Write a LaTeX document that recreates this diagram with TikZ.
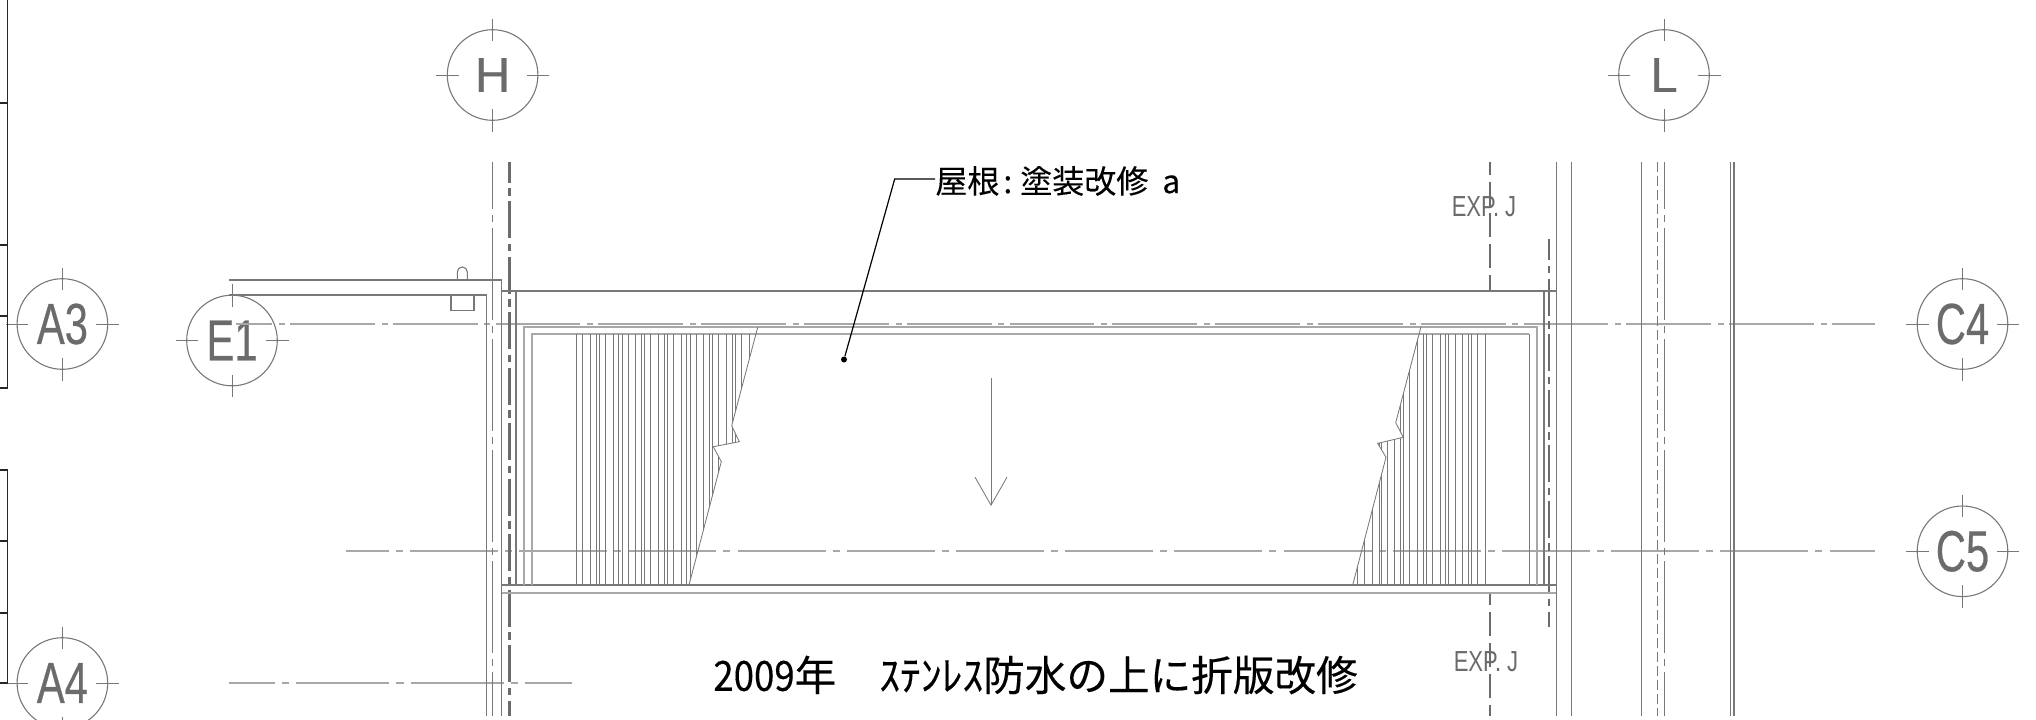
\documentclass[tikz,border=0pt]{standalone}
\usepackage{fontspec}
\setmainfont{Liberation Sans}
\newfontfamily\gridfont[FakeStretch=0.72,FakeBold=0.4]{Liberation Sans}
\newfontfamily\letterfont[FakeBold=0.5]{Liberation Sans}
\newfontfamily\tagfont[FakeStretch=0.76]{Liberation Sans}
\newfontfamily\notefont[FakeBold=0.2]{Noto Sans CJK JP}
\newfontfamily\yearfont[FakeBold=0.3]{Noto Sans CJK JP}
\newfontfamily\yearnarrow[FakeStretch=0.88,FakeBold=0.3]{Noto Sans CJK JP}
\usetikzlibrary{arrows.meta}
\definecolor{cadline}{gray}{0.47}
\definecolor{cadlight}{gray}{0.66}
\definecolor{cadtext}{gray}{0.42}
\tikzset{%
  >={Straight Barb[width=16pt,length=14pt]},
  % Specifications for style of nodes:
        gridmark/.style = {circle, draw=cadline, line width=0.55pt, inner sep=0pt,
                           minimum size=45.3pt, text=cadtext},
      gridnumber/.style = {gridmark, font=\gridfont\fontsize{29}{30}\selectfont},
      gridletter/.style = {gridmark, font=\letterfont\fontsize{24.5}{26}\selectfont},
         jointag/.style = {text=cadtext, inner sep=0pt,
                           font=\tagfont\fontsize{14.5}{16}\selectfont},
        roofnote/.style = {inner sep=0pt, font=\notefont\fontsize{16}{18}\selectfont},
       yearsnote/.style = {inner sep=0pt, font=\yearfont\fontsize{20.8}{24}\selectfont},
         notedot/.style = {circle, fill=black, inner sep=0pt, minimum size=3pt},
  % Specifications for style of lines:
            wall/.style = {draw=cadline, line width=0.55pt},
        wallpale/.style = {draw=cadlight, line width=1pt},
           hatch/.style = {draw=cadline, line width=0.42pt},
           frame/.style = {draw=black!85, line width=0.6pt},
        tickmark/.style = {draw=cadline, line width=0.4pt},
       centerrow/.style = {draw=cadlight, line width=0.85pt},
      centercol/.style = {draw=cadline, line width=0.45pt,
                          dash pattern=on 46pt off 3pt on 3.5pt off 3pt, dash phase=22.5pt},
      jointline/.style = {draw=black!58, line width=1.1pt,
                          dash pattern=on 18.5pt off 2.75pt on 3.75pt off 2.75pt, dash phase=8.25pt},
        expjoint/.style = {draw=black!58, line width=0.8pt,
                          dash pattern=on 12pt off 3.5pt, dash phase=5.5pt},
}
\begin{document}
\begin{tikzpicture}[x=0.5pt,y=-0.5pt]
  \clip (0,0) rectangle (2036,719);

  % Specification of grid marks
  \node (gridH)  [gridletter] at (492.6,75)    {H};
  \node (gridL)  [gridletter] at (1664,75)     {L};
  \node (gridA3) [gridnumber] at (62.4,324)    {A3};
  \node (gridE1) [gridnumber] at (232,340.5)   {E1};
  \node (gridA4) [gridnumber] at (62.4,683)    {A4};
  \node (gridC4) [gridnumber] at (1962.5,324)  {C4};
  \node (gridC5) [gridnumber] at (1962.5,551.3) {C5};

  \foreach \g in {gridH,gridL,gridA3,gridE1,gridA4,gridC4,gridC5}{
    \draw[tickmark] ([yshift=28.25pt]\g.center) -- ([yshift=17pt]\g.center);
    \draw[tickmark] ([yshift=-28.25pt]\g.center) -- ([yshift=-17pt]\g.center);
    \draw[tickmark] ([xshift=-28.25pt]\g.center) -- ([xshift=-17pt]\g.center);
    \draw[tickmark] ([xshift=28.25pt]\g.center) -- ([xshift=17pt]\g.center);
  }

  % Table edges at the left
  \draw[frame] (7.4,0) -- (7.4,388) -- (0,388);
  \draw[frame] (0,103) -- (7.4,103) (0,245) -- (7.4,245) (0,316) -- (7.4,316);
  \draw[frame] (0,470) -- (7.4,470) -- (7.4,683) -- (0,683);
  \draw[frame] (0,541) -- (7.4,541) (0,613) -- (7.4,613);

  % Center lines
  \draw[centerrow, dash pattern=on 42.4pt off 3.4pt on 3pt off 2.6pt, dash phase=24.4pt]
       (236,324) -- (1875,324);
  \draw[centerrow, dash pattern=on 44pt off 3.5pt on 3.5pt off 3.6pt, dash phase=22.4pt]
       (345.6,551.3) -- (1875,551.3);
  \draw[centerrow, dash pattern=on 46.5pt off 3.5pt on 3.75pt off 3.5pt, dash phase=23.75pt]
       (229,683) -- (572.4,683);
  \draw[centercol] (492.2,162) -- (492.2,716);
  \draw[centercol] (1664,162) -- (1664,716);
  \draw[jointline] (509.4,162) -- (509.4,716);
  \draw[jointline, dash phase=8pt] (1549,239) -- (1549,627);
  \draw[expjoint] (1490,162) -- (1490,291);
  \draw[expjoint] (1490,592) -- (1490,716);

  % Walls and slab edges
  \draw[wall] (229,280) -- (501.7,280) -- (501.7,716);
  \draw[wall] (229,295) -- (486.3,295) -- (486.3,716);
  \draw[wall] (451,295) -- (451,310.7) -- (474,310.7) -- (474,295);
  \draw[wall] (457.3,280) -- (457.3,272) arc[start angle=180, end angle=360, radius=5] -- (467.3,280);
  \draw[wall, line width=0.8pt] (501.7,290.7) -- (1556.5,290.7);
  \draw[wall] (516,290.7) -- (516,585);
  \draw[wall] (1544,290.7) -- (1544,585);
  \draw[wall, line width=0.8pt] (501.7,585) -- (1556.5,585);
  \draw[wallpale] (501.7,592.7) -- (1556.5,592.7);
  \draw[wall] (1556.5,162) -- (1556.5,716);
  \draw[wall] (1571.8,162) -- (1571.8,716);
  \draw[wall, line width=0.7pt] (1641.4,162) -- (1641.4,716);
  \draw[draw=cadline, line width=0.45pt, dash pattern=on 5pt off 2pt] (1657,162) -- (1657,716);
  \draw[wall] (1730.6,162) -- (1730.6,716);
  \draw[wall] (1734,162) -- (1734,716);

  % Roof edge lines
  \draw[wallpale] (524,585) -- (524,327.3) -- (1536.7,327.3) -- (1536.7,585);
  \draw[wallpale] (531.7,585) -- (531.7,334.2) -- (1529.3,334.2);
  \draw[wall] (1529.3,334.2) -- (1529.3,585);

  % Folded plate lines, cut at the break
  \begin{scope}
    \clip (560,327) -- (757.7,327.3) -- (731.7,425.7) -- (739.3,441.7) -- (713.3,446.7)
          -- (721.3,461.7) -- (689,585) -- (560,585) -- cycle;
    \draw[hatch] (576.7,334) -- +(0,251) (582.7,334) -- +(0,251) (590.7,334) -- +(0,251) (596.3,334) -- +(0,251);
    \draw[hatch] (599.3,334) -- +(0,251) (605.3,334) -- +(0,251) (613,334) -- +(0,251) (618.7,334) -- +(0,251);
    \draw[hatch] (622.3,334) -- +(0,251) (628,334) -- +(0,251) (635.7,334) -- +(0,251) (641.7,334) -- +(0,251);
    \draw[hatch] (644.7,334) -- +(0,251) (650.3,334) -- +(0,251) (658.3,334) -- +(0,251) (664,334) -- +(0,251);
    \draw[hatch] (667.3,334) -- +(0,251) (673,334) -- +(0,251) (681,334) -- +(0,251) (686.7,334) -- +(0,251);
    \draw[hatch] (690,334) -- +(0,251) (696,334) -- +(0,251) (703.7,334) -- +(0,251) (709.3,334) -- +(0,251);
    \draw[hatch] (712.3,334) -- +(0,251) (718.3,334) -- +(0,251) (726.3,334) -- +(0,251) (732.3,334) -- +(0,251);
    \draw[hatch] (735.3,334) -- +(0,251) (741.7,334) -- +(0,251) (749.3,334) -- +(0,251);
  \end{scope}
  \begin{scope}
    \clip (1500,327) -- (1421,326.7) -- (1395.7,422.7) -- (1403.3,437.3) -- (1377.7,443.3)
          -- (1386,457.3) -- (1352.7,585) -- (1500,585) -- cycle;
    \draw[hatch] (1357.7,334) -- +(0,251) (1364.3,334) -- +(0,251) (1372,334) -- +(0,251) (1379.3,334) -- +(0,251);
    \draw[hatch] (1381,334) -- +(0,251) (1387,334) -- +(0,251) (1394.7,334) -- +(0,251) (1400.7,334) -- +(0,251);
    \draw[hatch] (1403.3,334) -- +(0,251) (1409.7,334) -- +(0,251) (1417.7,334) -- +(0,251) (1423.3,334) -- +(0,251);
    \draw[hatch] (1426.7,334) -- +(0,251) (1432.3,334) -- +(0,251) (1440,334) -- +(0,251) (1445.7,334) -- +(0,251);
    \draw[hatch] (1448.3,334) -- +(0,251) (1455.3,334) -- +(0,251) (1462.3,334) -- +(0,251) (1468.3,334) -- +(0,251);
    \draw[hatch] (1471.3,334) -- +(0,251) (1477.3,334) -- +(0,251) (1485.7,334) -- +(0,251);
  \end{scope}
  \draw[hatch] (757.7,327.3) -- (731.7,425.7) -- (739.3,441.7) -- (713.3,446.7) -- (721.3,461.7) -- (689,585);
  \draw[hatch] (1421,326.7) -- (1395.7,422.7) -- (1403.3,437.3) -- (1377.7,443.3) -- (1386,457.3) -- (1352.7,585);

  % Slope arrow
  \coordinate (slopeTop) at (991,378);
  \coordinate (slopeEnd) at (991,506);
  \draw[->, hatch] (slopeTop) -- (slopeEnd);

  % Notes and tags
  \node (tagTop)    [jointag]   at (1484,207)  {EXP. J};
  \node (tagBottom) [jointag]   at (1486,661.5) {EXP. J};
  \node (noteRoof)  [roofnote, anchor=west] at (935,181)
        {屋根\hspace{2pt}:\hspace{4pt}塗装改修\hspace{7pt}a};
  \node (noteYears) [yearsnote, anchor=west] at (713,675)
        {{\yearnarrow 2009}年\hspace{21.5pt}ｽﾃﾝﾚｽ防水の上に折版改修};
  \node (noteDot)   [notedot]   at (844,359.5) {};
  \coordinate (noteBend) at (894.7,179);

  \draw[line width=0.6pt] (noteRoof.west |- noteBend) -- (noteBend) -- (noteDot);
\end{tikzpicture}
\end{document}
